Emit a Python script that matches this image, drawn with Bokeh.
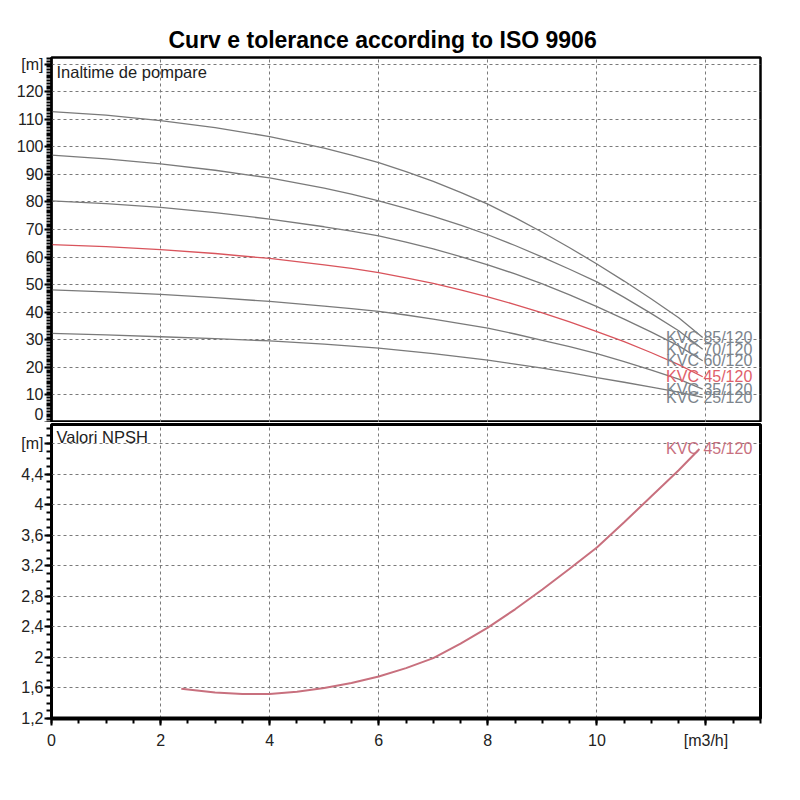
from bokeh.plotting import figure
from bokeh.layouts import column
from bokeh.models import Label, FixedTicker, Range1d
from bokeh.core.properties import value
from bokeh.embed import file_html
from bokeh.resources import INLINE

# debit [m3/h]
q = [0, 1, 2, 3, 4, 5, 5.5, 6, 6.5, 7, 7.5, 8, 8.5, 9, 9.5, 10, 10.5, 11, 11.5, 11.94]

# inaltime de pompare [m] pentru fiecare pompa
h_85 = [112.8, 111.5, 109.5, 107.0, 103.7, 99.5, 97.0, 94.3, 91.0, 87.5, 83.5, 79.2, 74.3, 69.0, 63.4, 57.5, 51.3, 44.8, 38.0, 30.8]
h_70 = [97.0, 95.6, 93.8, 91.5, 88.7, 85.0, 82.8, 80.4, 77.7, 74.8, 71.6, 68.1, 64.2, 60.0, 55.6, 51.0, 45.4, 39.5, 33.3, 26.6]
h_60 = [80.4, 79.4, 78.0, 76.1, 73.8, 71.0, 69.4, 67.7, 65.4, 63.0, 60.2, 57.2, 53.9, 50.3, 46.3, 42.0, 37.5, 32.8, 27.8, 22.4]
h_45 = [64.5, 63.8, 62.7, 61.3, 59.5, 57.2, 55.9, 54.4, 52.5, 50.5, 48.1, 45.6, 42.8, 39.8, 36.5, 33.0, 29.3, 25.3, 21.0, 16.6]
h_35 = [48.1, 47.4, 46.5, 45.3, 43.9, 42.2, 41.3, 40.3, 39.0, 37.5, 35.9, 34.2, 32.1, 29.8, 27.5, 25.0, 22.1, 19.0, 15.7, 12.1]
h_25 = [32.3, 31.8, 31.1, 30.4, 29.6, 28.4, 27.7, 27.0, 26.0, 25.0, 23.8, 22.6, 21.2, 19.7, 18.1, 16.3, 14.6, 12.8, 11.0, 9.1]

pumps = ["KVC 85/120", "KVC 70/120", "KVC 60/120", "KVC 45/120", "KVC 35/120", "KVC 25/120"]
heads = [h_85, h_70, h_60, h_45, h_35, h_25]
selected = "KVC 45/120"

# NPSH
q_npsh = [2.38, 3, 3.5, 4, 4.5, 5, 5.5, 6, 6.5, 7, 7.5, 8, 8.5, 9, 9.5, 10, 10.5, 11, 11.5, 11.88]
npsh = [1.59, 1.54, 1.52, 1.52, 1.55, 1.60, 1.665, 1.75, 1.86, 1.99, 2.18, 2.39, 2.63, 2.89, 3.16, 3.44, 3.77, 4.11, 4.45, 4.73]

x_ticks = [0, 2, 4, 6, 8, 10, 12]
h_ticks = [0, 10, 20, 30, 40, 50, 60, 70, 80, 90, 100, 110, 120, 130]
n_ticks = [1.2, 1.6, 2.0, 2.4, 2.8, 3.2, 3.6, 4.0, 4.4, 4.8]

FONT = "Liberation Sans"
GRAY = "#7a7a7a"
LABEL_GRAY = "#7c848c"
RED = "#d9545c"
RED_LABEL = "#e0606a"
NPSH_RED = "#c8707e"
TXT = "#222222"


def style(p, yticks, yminor):
    p.outline_line_color = "black"
    p.xgrid.grid_line_color = "#7a7a7a"
    p.ygrid.grid_line_color = "#7a7a7a"
    p.xgrid.grid_line_dash = "3 3"
    p.ygrid.grid_line_dash = "3 3"
    p.yaxis.ticker = FixedTicker(ticks=yticks, minor_ticks=yminor)
    p.xaxis.ticker = FixedTicker(ticks=x_ticks, minor_ticks=[i * 0.5 for i in range(27)])
    for ax in p.yaxis + p.xaxis:
        ax.axis_line_color = "black"
        ax.axis_line_width = 2
        ax.major_tick_in = 0
        ax.major_tick_out = 7
        ax.minor_tick_in = 0
        ax.minor_tick_out = 5
        ax.major_tick_line_width = 2
        ax.minor_tick_line_width = 2
        ax.major_tick_line_color = "black"
        ax.minor_tick_line_color = "black"
        ax.major_label_text_font = FONT
        ax.major_label_text_font_size = "16px"
        ax.major_label_text_color = TXT
        ax.major_label_standoff = 1


top = figure(width=792, height=422, output_backend="svg", toolbar_location=None,
             x_range=Range1d(0, 13), y_range=Range1d(0, 132.4),
             min_border_left=51, min_border_right=32, min_border_top=57, min_border_bottom=0,
             title="Curv e tolerance according to ISO 9906")
top.title.text_font = FONT
top.title.text_font_size = "23px"
top.title.text_font_style = "bold"
top.title.text_color = "black"
top.title.align = "left"
top.title.offset = 117
top.title.standoff = 9
style(top, h_ticks, list(range(0, 133)))
top.outline_line_width = 2.5
top.xaxis.visible = False
top.yaxis.major_label_overrides = {130: "[m]"}

label_x = 12.85
for name, h in zip(pumps, heads):
    col = RED if name == selected else GRAY
    top.line(q, h, line_color=col, line_width=1.3)
for name, h in zip(pumps, heads):
    tcol = RED_LABEL if name == selected else LABEL_GRAY
    top.text(x=[label_x], y=[h[-1]], text=[name], text_align="right", text_baseline="middle",
             text_font=value(FONT), text_font_size="16px", text_color=tcol)

top.add_layout(Label(x=0, y=132.4, x_offset=5, y_offset=-5, text="Inaltime de pompare",
                     text_baseline="top", text_font=FONT, text_font_size="16.5px",
                     text_color=TXT))

bot = figure(width=792, height=336, output_backend="svg", toolbar_location=None,
             x_range=Range1d(0, 13), y_range=Range1d(1.2, 5.05),
             min_border_left=51, min_border_right=32, min_border_top=2, min_border_bottom=40)
style(bot, n_ticks, [round(1.2 + 0.1 * i, 2) for i in range(40)])
bot.outline_line_width = 3
bot.xaxis.axis_line_width = 4
bot.yaxis.major_label_overrides = {1.2: "1,2", 1.6: "1,6", 2.0: "2", 2.4: "2,4", 2.8: "2,8",
                                   3.2: "3,2", 3.6: "3,6", 4.0: "4", 4.4: "4,4", 4.8: "[m]"}
bot.xaxis.major_label_overrides = {12: "[m3/h]"}
bot.xaxis.major_label_standoff = 6

bot.line(q_npsh, npsh, line_color=NPSH_RED, line_width=2)
bot.text(x=[label_x], y=[npsh[-1]], text=[selected], text_align="right", text_baseline="middle",
         text_font=value(FONT), text_font_size="16px", text_color=NPSH_RED)
bot.add_layout(Label(x=0, y=5.05, x_offset=5, y_offset=-3, text="Valori NPSH",
                     text_baseline="top", text_font=FONT, text_font_size="16.5px",
                     text_color=TXT))

p = column(top, bot, spacing=0)
open("out.html", "w").write(file_html(p, INLINE))
